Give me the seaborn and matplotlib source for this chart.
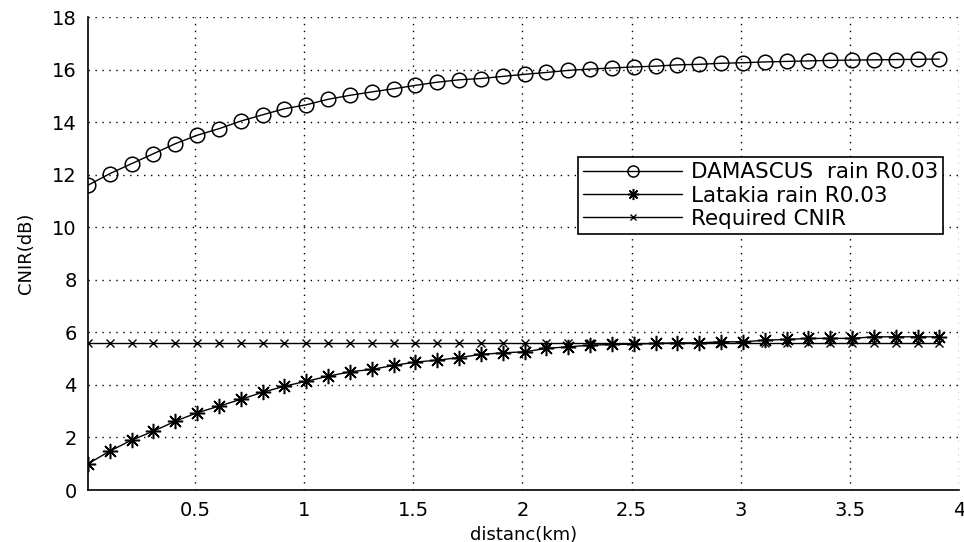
import matplotlib
matplotlib.use("Agg")
import matplotlib.pyplot as plt
import seaborn as sns
import pandas as pd

# ---- data ----
distance_km = [0.01, 0.11, 0.21, 0.31, 0.41, 0.51, 0.61, 0.71, 0.81, 0.91,
               1.01, 1.11, 1.21, 1.31, 1.41, 1.51, 1.61, 1.71, 1.81, 1.91,
               2.01, 2.11, 2.21, 2.31, 2.41, 2.51, 2.61, 2.71, 2.81, 2.91,
               3.01, 3.11, 3.21, 3.31, 3.41, 3.51, 3.61, 3.71, 3.81, 3.91]

damascus = [11.6, 12.04, 12.42, 12.8, 13.18, 13.5, 13.75, 14.04, 14.28, 14.51,
            14.66, 14.87, 15.02, 15.15, 15.27, 15.4, 15.52, 15.61, 15.66, 15.74,
            15.82, 15.89, 15.97, 16.02, 16.06, 16.1, 16.13, 16.18, 16.2, 16.24,
            16.26, 16.29, 16.31, 16.33, 16.35, 16.36, 16.37, 16.38, 16.39, 16.4]

latakia = [1.0, 1.48, 1.9, 2.24, 2.62, 2.94, 3.19, 3.45, 3.72, 3.95,
           4.14, 4.33, 4.5, 4.59, 4.74, 4.87, 4.94, 5.04, 5.16, 5.22,
           5.26, 5.39, 5.45, 5.51, 5.54, 5.55, 5.58, 5.6, 5.6, 5.64,
           5.64, 5.7, 5.73, 5.77, 5.77, 5.77, 5.83, 5.83, 5.83, 5.83]

required = [5.6, 5.6, 5.6, 5.6, 5.6, 5.6, 5.6, 5.6, 5.6, 5.6,
            5.6, 5.6, 5.6, 5.6, 5.6, 5.6, 5.6, 5.6, 5.6, 5.6,
            5.6, 5.6, 5.6, 5.6, 5.6, 5.6, 5.6, 5.6, 5.6, 5.6,
            5.6, 5.6, 5.6, 5.6, 5.6, 5.6, 5.6, 5.6, 5.6, 5.6]

labels = ["DAMASCUS  rain R0.03", "Latakia rain R0.03", "Required CNIR"]
x_ticks = [0.5, 1, 1.5, 2, 2.5, 3, 3.5, 4]
x_tick_labels = ["0.5", "1", "1.5", "2", "2.5", "3", "3.5", "4"]
y_ticks = [0, 2, 4, 6, 8, 10, 12, 14, 16, 18]

df = pd.DataFrame({"x": distance_km, "dam": damascus, "lat": latakia, "req": required})

sns.set_style("white")
plt.rcParams["font.family"] = ["DejaVu Sans"]
plt.rcParams["text.color"] = "k"
plt.rcParams["axes.labelcolor"] = "k"

fig = plt.figure(figsize=(9.64, 5.42), dpi=100)
ax = fig.add_axes([0.0913, 0.0959, 0.9035, 0.8727])

sns.lineplot(data=df, x="x", y="dam", ax=ax, color="k", lw=1, marker="o",
             markersize=10.5, mfc="none", mec="k", mew=1.1, label=labels[0])
sns.lineplot(data=df, x="x", y="lat", ax=ax, color="k", lw=1, marker=(8, 2, 0),
             markersize=11, mec="k", mew=1.1, label=labels[1])
sns.lineplot(data=df, x="x", y="req", ax=ax, color="k", lw=1, marker="x",
             markersize=6, mec="k", mew=1, label=labels[2])

ax.set_xlim(0.01, 4)
ax.set_ylim(0, 18)
ax.set_xticks(x_ticks)
ax.set_xticklabels(x_tick_labels)
ax.set_yticks(y_ticks)
ax.tick_params(direction="in", length=5, width=1, labelsize=14, colors="k",
               pad=8)
ax.grid(True, color="k", linestyle=(0, (1, 4)), linewidth=1)
for s in ["top", "right"]:
    ax.spines[s].set_visible(False)
for s in ["left", "bottom"]:
    ax.spines[s].set_color("k")
    ax.spines[s].set_linewidth(1.2)

ax.set_xlabel("distanc(km)", fontsize=13, labelpad=4)
ax.set_ylabel("CNIR(dB)", fontsize=13, labelpad=12)

leg = ax.legend(loc="upper right", bbox_to_anchor=(0.982, 0.704), fontsize=15.5,
                frameon=True, fancybox=False, edgecolor="k", framealpha=1,
                handlelength=4.6, labelspacing=0.15, borderpad=0.25,
                handletextpad=0.4, borderaxespad=0)
leg.get_frame().set_linewidth(1.2)
for h, ms in zip(leg.legend_handles, [8, 8, 5]):
    h.set_markersize(ms)

fig.savefig("out.png", dpi=100)
